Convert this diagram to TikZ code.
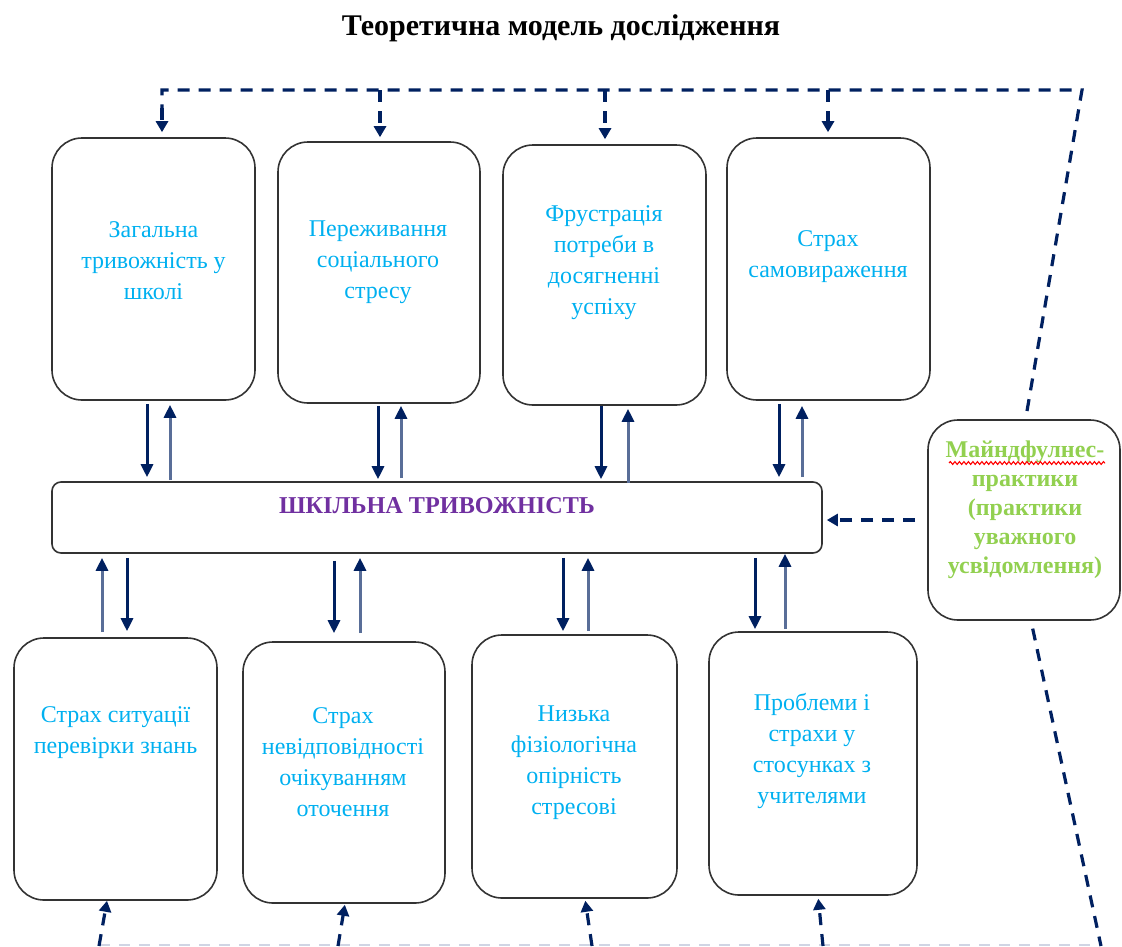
\documentclass[tikz,border=0pt]{standalone}
\usepackage{fontspec}
\setmainfont{Liberation Serif}
\usetikzlibrary{arrows.meta,decorations.pathmorphing}
\definecolor{navy}{HTML}{002060}
\definecolor{txtblue}{HTML}{00B0F0}
\definecolor{purp}{HTML}{7030A0}
\definecolor{grn}{HTML}{92D050}
\definecolor{faintline}{HTML}{D0D5E4}
\begin{document}
\begin{tikzpicture}[x=1pt,y=-1pt,
  box/.style={draw=black!80, line width=1.6pt, rounded corners=30pt, inner sep=0pt},
  lbl/.style={text=txtblue, align=center, font=\fontsize{24}{31}\selectfont, inner sep=0pt},
  dn/.style={draw=navy, line width=3pt, -{Triangle[length=13pt,width=12pt]}},
  upa/.style={draw=navy!65, line width=3pt, -{Triangle[length=13pt,width=12pt,color=navy]}},
  dsh/.style={draw=navy, line width=3.2pt, dash pattern=on 12pt off 9pt},
  dsharr/.style={dsh, -{Triangle[length=11pt,width=12pt]}}]
\useasboundingbox (0,0) rectangle (1122,946);

% title
\node[font=\fontsize{30}{34}\selectfont\bfseries] (title) at (561,28) {Теоретична модель дослідження};

% top boxes
\node[box, minimum width=203pt, minimum height=262pt] (t1) at (153.5,269) {};
\node[box, minimum width=202pt, minimum height=261pt] (t2) at (379,272.5) {};
\node[box, minimum width=203pt, minimum height=260pt] (t3) at (604.5,275) {};
\node[box, minimum width=203pt, minimum height=262pt] (t4) at (828.5,269) {};
\node[lbl] (t1l) at (153.5,261) {Загальна\\тривожність у\\школі};
\node[lbl] (t2l) at (378,262) {Переживання\\соціального\\стресу};
\node[lbl] (t3l) at (604,263) {Фрустрація\\потреби в\\досягненні\\успіху};
\node[lbl] (t4l) at (828,257) {Страх\\самовираження};

% central bar
\node[box, rounded corners=9pt, minimum width=770pt, minimum height=71pt] (bar) at (437,517.5) {};
\node[font=\fontsize{24.2}{28}\selectfont\bfseries, text=purp] (barl) at (437,506) {ШКІЛЬНА ТРИВОЖНІСТЬ};

% bottom boxes
\node[box, minimum width=203pt, minimum height=262pt] (b5) at (115.5,769) {};
\node[box, minimum width=202pt, minimum height=261pt] (b6) at (344,772.5) {};
\node[box, minimum width=205pt, minimum height=263pt] (b7) at (574.5,766.5) {};
\node[box, minimum width=208pt, minimum height=263pt] (b8) at (813,763.5) {};
\node[lbl] (b5l) at (115.5,733) {Страх ситуації\\перевірки знань};
\node[lbl] (b6l) at (343,762) {Страх\\невідповідності\\очікуванням\\оточення};
\node[lbl] (b7l) at (574,763) {Низька\\фізіологічна\\опірність\\стресові};
\node[lbl] (b8l) at (812,751) {Проблеми і\\страхи у\\стосунках з\\учителями};

% mindfulness box
\node[box, minimum width=192pt, minimum height=200pt] (m) at (1024,520) {};
\node[lbl, text=grn, font=\fontsize{24}{29}\selectfont\bfseries] (ml) at (1025,510) {Майндфулнес-\\практики\\(практики\\уважного\\усвідомлення)};
\draw[red, line width=1.1pt, decorate, decoration={snake, amplitude=1.4pt, segment length=4.5pt}] (949,463) -- (1105,463);

% arrows top boxes <-> bar
\draw[dn, shorten <=3pt, shorten >=4pt] ([xshift=-6.5pt]t1.south) -- ([xshift=-6.5pt]t1.south |- bar.north);
\draw[upa, shorten <=1pt, shorten >=4pt] ([xshift=16.5pt]t1.south |- bar.north) -- ([xshift=16.5pt]t1.south);
\draw[dn, shorten <=2pt, shorten >=2pt] ([xshift=-1pt]t2.south) -- ([xshift=-1pt]t2.south |- bar.north);
\draw[upa, shorten <=3pt, shorten >=2pt] ([xshift=22pt]t2.south |- bar.north) -- ([xshift=22pt]t2.south);
\draw[dn, shorten <=0pt, shorten >=2pt] ([xshift=-3.5pt]t3.south) -- ([xshift=-3.5pt]t3.south |- bar.north);
\draw[upa, shorten <=-2pt, shorten >=3pt] ([xshift=23.5pt]t3.south |- bar.north) -- ([xshift=23.5pt]t3.south);
\draw[dn, shorten <=3pt, shorten >=4pt] ([xshift=-49.5pt]t4.south) -- ([xshift=-49.5pt]t4.south |- bar.north);
\draw[upa, shorten <=4pt, shorten >=5pt] ([xshift=-26.5pt]t4.south |- bar.north) -- ([xshift=-26.5pt]t4.south);

% arrows bar <-> bottom boxes
\draw[upa, shorten <=5pt, shorten >=4pt] ([xshift=-13.5pt]b5.north) -- ([xshift=-13.5pt]b5.north |- bar.south);
\draw[dn, shorten <=4pt, shorten >=6pt] ([xshift=11.5pt]b5.north |- bar.south) -- ([xshift=11.5pt]b5.north);
\draw[dn, shorten <=7pt, shorten >=8pt] ([xshift=-10pt]b6.north |- bar.south) -- ([xshift=-10pt]b6.north);
\draw[upa, shorten <=8pt, shorten >=4pt] ([xshift=16pt]b6.north) -- ([xshift=16pt]b6.north |- bar.south);
\draw[dn, shorten <=4pt, shorten >=3pt] ([xshift=-11.5pt]b7.north |- bar.south) -- ([xshift=-11.5pt]b7.north);
\draw[upa, shorten <=3pt, shorten >=4pt] ([xshift=13.5pt]b7.north) -- ([xshift=13.5pt]b7.north |- bar.south);
\draw[dn, shorten <=4pt, shorten >=2pt] ([xshift=-58pt]b8.north |- bar.south) -- ([xshift=-58pt]b8.north);
\draw[upa, shorten <=2pt, shorten >=0pt] ([xshift=-28pt]b8.north) -- ([xshift=-28pt]b8.north |- bar.south);

% top dashed feedback
\coordinate (tl) at (162,90);
\coordinate (tr) at (1082,90);
\coordinate (dtop) at (1027,411);
\coordinate (br2) at (380,90);
\coordinate (br3) at (605,90);
\coordinate (br4) at (828,90);
\draw[dsh] (dtop) -- (tr) -- (tl) -- ([yshift=-18pt]tl);
\draw[dsharr, shorten >=5pt] ([yshift=-18pt]tl) -- (tl |- t1.north);
\draw[dsharr, shorten >=4pt] (br2) -- (br2 |- t2.north);
\draw[dsharr, shorten >=5pt] (br3) -- (br3 |- t3.north);
\draw[dsharr, shorten >=5pt] (br4) -- (br4 |- t4.north);

% mindfulness -> bar
\draw[dsharr, shorten <=12pt, shorten >=4pt] (m.west) -- (m.west -| bar.east);

% bottom dashed
\coordinate (s5) at (99,946);
\coordinate (s6) at (338,946);
\coordinate (s7) at (592,946);
\coordinate (s8) at (823,946);
\coordinate (send) at (1101,946);
\draw[faintline, line width=2.2pt, dash pattern=on 11pt off 9pt] ([yshift=1pt]s5) -- ([yshift=1pt]send);
\draw[dsharr] (s5) -- ([xshift=-8.5pt]b5.south);
\draw[dsharr, shorten >=1pt] (s6) -- ([xshift=1pt]b6.south);
\draw[dsharr, shorten >=2pt] (s7) -- ([xshift=10.5pt]b7.south);
\draw[dsharr, shorten >=3pt] (s8) -- ([xshift=5pt]b8.south);
\draw[dsh, shorten <=8pt] ([xshift=7pt]m.south) -- (send);
\end{tikzpicture}
\end{document}
